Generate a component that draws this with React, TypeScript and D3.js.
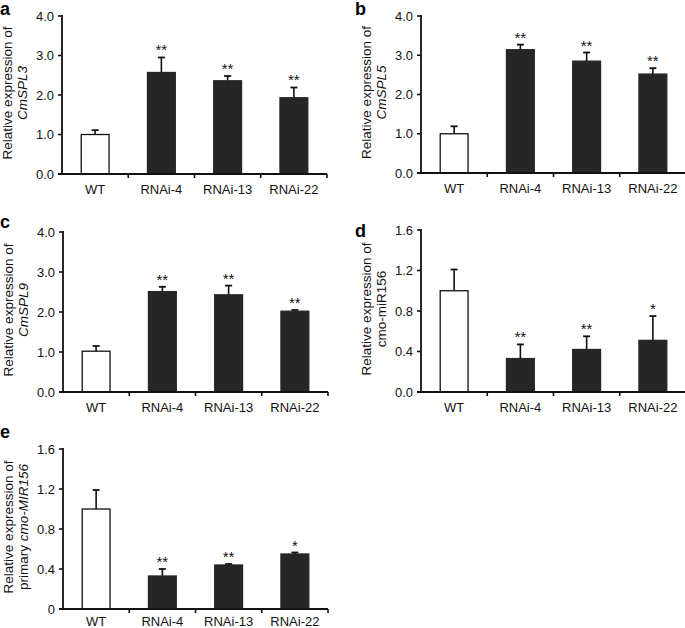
import * as d3 from 'd3'

const categories = ['WT', 'RNAi-4', 'RNAi-13', 'RNAi-22']

const spl3Mean = [1.0, 2.57, 2.36, 1.93]
const spl3Err = [0.11, 0.38, 0.12, 0.26]
const spl5Mean = [1.0, 3.14, 2.85, 2.52]
const spl5Err = [0.19, 0.13, 0.22, 0.15]
const spl9Mean = [1.02, 2.51, 2.43, 2.02]
const spl9Err = [0.13, 0.12, 0.23, 0.03]
const mirMean = [1.0, 0.33, 0.42, 0.51]
const mirErr = [0.21, 0.14, 0.13, 0.24]
const priMean = [1.0, 0.33, 0.44, 0.55]
const priErr = [0.19, 0.07, 0.01, 0.015]

const splStars = ['', '**', '**', '**']
const mirStars = ['', '**', '**', '*']

const splTicks = [0, 1, 2, 3, 4]
const mirTicks = [0, 0.4, 0.8, 1.2, 1.6]

const FONT = '"Liberation Sans", Arial, Helvetica, sans-serif'
const INK = '#111'
const BAR = '#262626'

type Seg = { t: string; italic?: boolean }

type PanelProps = {
  letter: string
  letterX: number
  letterY: number
  x0: number
  yTop: number
  yBottom: number
  ticks: number[]
  fmt: (v: number) => string
  mean: number[]
  err: number[]
  stars: string[]
  line2: Seg[]
  catDy: number
}

function Panel(p: PanelProps) {
  const width = 265
  const x = d3
    .scaleBand<string>()
    .domain(categories)
    .range([p.x0, p.x0 + width])
    .paddingInner(0.58)
    .paddingOuter(0.29)
  const y = d3
    .scaleLinear()
    .domain([0, p.ticks[p.ticks.length - 1]])
    .range([p.yBottom, p.yTop])
  const step = x.step()
  const bw = x.bandwidth()
  const cy = (p.yTop + p.yBottom) / 2 - 2

  return (
    <g>
      <text x={p.letterX} y={p.letterY} fontSize={18} fontWeight="bold" fill="#000">
        {p.letter}
      </text>

      {/* y label */}
      <text
        transform={`translate(${p.x0 - 50},${cy}) rotate(-90)`}
        textAnchor="middle"
        fontSize={13.5}
        fill={INK}
      >
        Relative expression of
      </text>
      <text
        transform={`translate(${p.x0 - 35},${cy}) rotate(-90)`}
        textAnchor="middle"
        fontSize={13.5}
        fill={INK}
      >
        {p.line2.map((s, i) => (
          <tspan key={i} fontStyle={s.italic ? 'italic' : 'normal'}>
            {s.t}
          </tspan>
        ))}
      </text>

      {/* bars */}
      {categories.map((c, i) => {
        const bx = x(c) as number
        const top = y(p.mean[i])
        const et = y(p.mean[i] + p.err[i])
        const cx = bx + bw / 2
        return (
          <g key={c}>
            <line x1={cx} x2={cx} y1={top} y2={et} stroke={INK} strokeWidth={1.6} />
            <line x1={cx - 3.5} x2={cx + 3.5} y1={et} y2={et} stroke={INK} strokeWidth={1.8} />
            <rect
              x={bx}
              y={top}
              width={bw}
              height={p.yBottom - top}
              fill={i === 0 ? '#fff' : BAR}
              stroke={i === 0 ? INK : BAR}
              strokeWidth={1.3}
            />
            {p.stars[i] && (
              <text x={cx} y={et - 2} textAnchor="middle" fontSize={15} fill={INK}>
                {p.stars[i]}
              </text>
            )}
          </g>
        )
      })}

      {/* y axis */}
      <line x1={p.x0} x2={p.x0} y1={p.yTop - 1} y2={p.yBottom} stroke={INK} strokeWidth={1.8} />
      {p.ticks.map((t) => (
        <g key={t}>
          <line x1={p.x0 - 4} x2={p.x0} y1={y(t)} y2={y(t)} stroke={INK} strokeWidth={1.6} />
          <text x={p.x0 - 8} y={y(t)} dy="0.35em" textAnchor="end" fontSize={13} fill={INK}>
            {p.fmt(t)}
          </text>
        </g>
      ))}

      {/* x axis */}
      <line x1={p.x0 - 4} x2={p.x0 + width} y1={p.yBottom} y2={p.yBottom} stroke={INK} strokeWidth={1.8} />
      {d3.range(1, categories.length + 1).map((i) => (
        <line
          key={i}
          x1={p.x0 + i * step}
          x2={p.x0 + i * step}
          y1={p.yBottom}
          y2={p.yBottom + 4}
          stroke={INK}
          strokeWidth={1.6}
        />
      ))}
      {categories.map((c) => (
        <text
          key={c}
          x={(x(c) as number) + bw / 2}
          y={p.yBottom + p.catDy}
          textAnchor="middle"
          fontSize={13}
          fill={INK}
        >
          {c}
        </text>
      ))}
    </g>
  )
}

const f1 = d3.format('.1f')
const fZero = (v: number) => (v === 0 ? '0' : d3.format('.1f')(v))

export default function App() {
  return (
    <svg
      width={685}
      height={628}
      viewBox="0 0 685 628"
      style={{ position: 'absolute', left: 0, top: 0, background: '#fff' }}
      fontFamily={FONT}
    >
      <Panel
        letter="a" letterX={0} letterY={15}
        x0={62} yTop={16} yBottom={174}
        ticks={splTicks} fmt={f1}
        mean={spl3Mean} err={spl3Err} stars={splStars}
        line2={[{ t: 'CmSPL3', italic: true }]}
        catDy={20}
      />
      <Panel
        letter="b" letterX={355} letterY={15}
        x0={421} yTop={16} yBottom={173}
        ticks={splTicks} fmt={f1}
        mean={spl5Mean} err={spl5Err} stars={splStars}
        line2={[{ t: 'CmSPL5', italic: true }]}
        catDy={20}
      />
      <Panel
        letter="c" letterX={0} letterY={228}
        x0={63} yTop={232} yBottom={392}
        ticks={splTicks} fmt={f1}
        mean={spl9Mean} err={spl9Err} stars={splStars}
        line2={[{ t: 'CmSPL9', italic: true }]}
        catDy={20}
      />
      <Panel
        letter="d" letterX={355} letterY={237}
        x0={421} yTop={230} yBottom={392}
        ticks={mirTicks} fmt={f1}
        mean={mirMean} err={mirErr} stars={mirStars}
        line2={[{ t: 'cmo-miR156' }]}
        catDy={20}
      />
      <Panel
        letter="e" letterX={0} letterY={438}
        x0={63} yTop={449} yBottom={609}
        ticks={mirTicks} fmt={fZero}
        mean={priMean} err={priErr} stars={mirStars}
        line2={[{ t: 'primary ' }, { t: 'cmo-MIR156', italic: true }]}
        catDy={17}
      />
    </svg>
  )
}
